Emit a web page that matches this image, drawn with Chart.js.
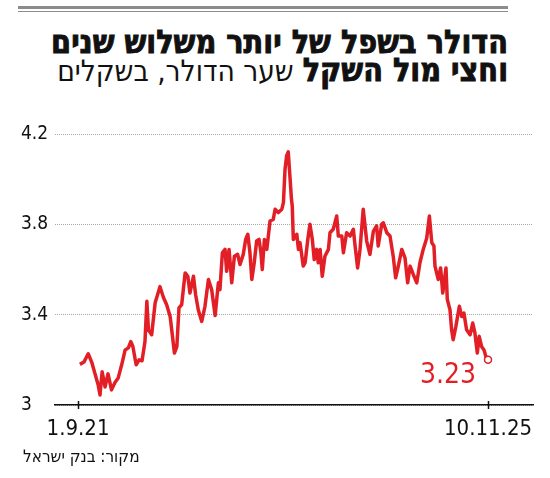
<!DOCTYPE html>
<html lang="he">
<head>
<meta charset="UTF-8">
<title>הדולר בשפל</title>
<script src="https://cdn.jsdelivr.net/npm/chart.js"></script>
<style>
  html, body { margin: 0; padding: 0; background: #fff; }
  #wrap { position: relative; width: 550px; height: 478px; overflow: hidden; }
  #rule1 { position: absolute; left: 18px; top: 6px; width: 490px; height: 3px; background: #8c8c8c; }
  #rule2 { position: absolute; left: 18px; top: 11px; width: 490px; height: 1px; background: #8c8c8c; }
  .t { position: absolute; right: 42px; direction: rtl; white-space: nowrap; color: #111;
       font-family: "DejaVu Sans Condensed", "DejaVu Sans", sans-serif; font-size: 32px; line-height: 31px; }
  #t1 { top: 27px; font-weight: bold; -webkit-text-stroke: 0.9px #111; }
  #t2 { top: 55px; }
  #t2 b { font-weight: bold; -webkit-text-stroke: 0.9px #111; }
  #t2 span { font-weight: normal; font-size: 29.5px; }
  #src { position: absolute; left: 23px; top: 446px; direction: rtl; color: #111;
         font-family: "DejaVu Sans Condensed", "DejaVu Sans", sans-serif; font-size: 17px; }
  canvas { position: absolute; left: 0; top: 0; }
</style>
</head>
<body>
<div id="wrap">
  <div id="rule1"></div>
  <div id="rule2"></div>
  <div class="t" id="t1">הדולר בשפל של יותר משלוש שנים</div>
  <div class="t" id="t2"><b>וחצי מול השקל</b> <span>שער הדולר, בשקלים</span></div>
  <canvas id="chart" width="550" height="478"></canvas>
  <div id="src">מקור: בנק ישראל</div>
</div>
<script>
// days since 1.9.21, and the dollar rate in shekels
const days = [7, 22, 38, 51, 63, 75, 82, 90, 101, 112, 125, 138, 150, 163, 176, 188, 197, 205, 217, 228,
  239, 250, 257, 263, 275, 288, 306, 319, 331, 344, 360, 369, 377, 387, 400, 410, 418, 431, 439, 449,
  462, 474, 487, 499, 512, 524, 530, 539, 549, 555, 564, 574, 584, 596, 605, 617, 626, 634, 642, 649,
  658, 667, 676, 683, 688, 696, 705, 717, 729, 736, 748, 761, 767, 773, 779, 785, 792, 797, 800, 804,
  817, 823, 829, 841, 848, 858, 866, 875, 882, 891, 897, 904, 912, 922, 935, 941, 953, 966, 972, 985,
  991, 1003, 1016, 1028, 1034, 1044, 1053, 1065, 1078, 1090, 1103, 1115, 1121, 1134, 1140, 1153, 1165, 1177, 1186, 1196,
  1209, 1221, 1231, 1240, 1252, 1265, 1277, 1289, 1302, 1312, 1321, 1329, 1333, 1345, 1354, 1362, 1374, 1379, 1389, 1395,
  1401, 1411, 1424, 1433, 1441, 1451, 1464, 1474, 1482, 1491, 1498, 1507, 1516, 1524, 1531];
const rates = [3.18, 3.19, 3.227, 3.19, 3.14, 3.09, 3.044, 3.147, 3.08, 3.138, 3.067, 3.10, 3.12, 3.178, 3.244, 3.253, 3.281, 3.258, 3.178, 3.20,
  3.196, 3.281, 3.459, 3.333, 3.311, 3.453, 3.524, 3.476, 3.444, 3.392, 3.23, 3.258, 3.43, 3.444, 3.585, 3.57, 3.496, 3.57, 3.489, 3.422,
  3.37, 3.437, 3.556, 3.511, 3.396, 3.541, 3.511, 3.674, 3.689, 3.592, 3.689, 3.541, 3.659, 3.667, 3.622, 3.667, 3.733, 3.756, 3.674, 3.556,
  3.63, 3.726, 3.733, 3.674, 3.60, 3.733, 3.689, 3.815, 3.822, 3.867, 3.852, 3.867, 3.896, 4.044, 4.104, 4.121, 4.0, 3.911, 3.881, 3.733,
  3.756, 3.689, 3.719, 3.615, 3.63, 3.733, 3.80, 3.733, 3.644, 3.689, 3.63, 3.689, 3.57, 3.659, 3.689, 3.763, 3.778, 3.837, 3.748, 3.748,
  3.674, 3.763, 3.748, 3.778, 3.711, 3.607, 3.689, 3.867, 3.726, 3.667, 3.77, 3.793, 3.704, 3.80, 3.807, 3.763, 3.748, 3.659, 3.563, 3.615,
  3.689, 3.652, 3.541, 3.615, 3.578, 3.541, 3.631, 3.689, 3.738, 3.837, 3.719, 3.704, 3.615, 3.556, 3.607, 3.496, 3.607, 3.467, 3.422, 3.333,
  3.289, 3.348, 3.437, 3.392, 3.407, 3.333, 3.311, 3.363, 3.319, 3.23, 3.304, 3.259, 3.244, 3.21, 3.20];
const xTickDays = [0, 1531];
const xTickLabels = ['1.9.21', '10.11.25'];
const yTicks = [3, 3.4, 3.8, 4.2];
const lastLabel = '3.23';

const RED = '#e21f26';
const NUM_FONT = '"DejaVu Sans Condensed", "DejaVu Sans", sans-serif';

const points = days.map((d, i) => ({ x: d, y: rates[i] }));
const lastIdx = points.length - 1;

const extras = {
  id: 'extras',
  afterDatasetsDraw(chart) {
    const ctx = chart.ctx;
    const xs = chart.scales.x;
    const ys = chart.scales.y;
    const bottom = chart.chartArea.bottom;
    ctx.save();
    // tick marks crossing the axis
    ctx.strokeStyle = '#111';
    ctx.lineWidth = 1.5;
    xTickDays.forEach(d => {
      const px = Math.round(xs.getPixelForValue(d)) + 0.5;
      ctx.beginPath();
      ctx.moveTo(px, bottom - 4);
      ctx.lineTo(px, bottom + 4);
      ctx.stroke();
    });
    // label of the last value
    const lx = xs.getPixelForValue(days[lastIdx]);
    const ly = ys.getPixelForValue(rates[lastIdx]);
    ctx.fillStyle = RED;
    ctx.font = '28px ' + NUM_FONT;
    ctx.textAlign = 'right';
    ctx.textBaseline = 'middle';
    ctx.fillText(lastLabel, lx - 12, ly + 16);
    ctx.restore();
  }
};

new Chart(document.getElementById('chart'), {
  type: 'line',
  data: {
    datasets: [{
      data: points,
      borderColor: RED,
      borderWidth: 3.5,
      borderJoinStyle: 'round',
      tension: 0,
      pointRadius: ctx => ctx.dataIndex === lastIdx ? 3.5 : 0,
      pointBackgroundColor: '#fff',
      pointBorderColor: RED,
      pointBorderWidth: 1.5,
      pointHoverRadius: 0
    }]
  },
  options: {
    responsive: false,
    animation: false,
    events: [],
    layout: { padding: { top: 134, left: 21, right: 17, bottom: 0 } },
    plugins: { legend: { display: false }, tooltip: { enabled: false } },
    scales: {
      x: {
        type: 'linear',
        min: -86,
        max: 1699,
        afterBuildTicks: s => { s.ticks = xTickDays.map(v => ({ value: v })); },
        afterFit: s => { s.height = 73; },
        grid: { display: false },
        border: { display: true, color: '#111', width: 1.5 },
        ticks: {
          padding: 3,
          maxRotation: 0,
          autoSkip: false,
          color: '#111',
          font: { family: NUM_FONT, size: 22 },
          callback: v => xTickLabels[xTickDays.indexOf(v)]
        }
      },
      y: {
        min: 3,
        max: 4.2,
        afterBuildTicks: s => { s.ticks = yTicks.map(v => ({ value: v })); },
        afterFit: s => { s.width = 34; },
        grid: { color: '#a8a8a8', lineWidth: 1, drawTicks: false },
        border: { display: false, dash: [1, 1] },
        ticks: {
          crossAlign: 'far',
          color: '#111',
          font: { family: NUM_FONT, size: 19 },
          callback: v => String(v)
        }
      }
    }
  },
  plugins: [extras]
});
</script>
</body>
</html>
